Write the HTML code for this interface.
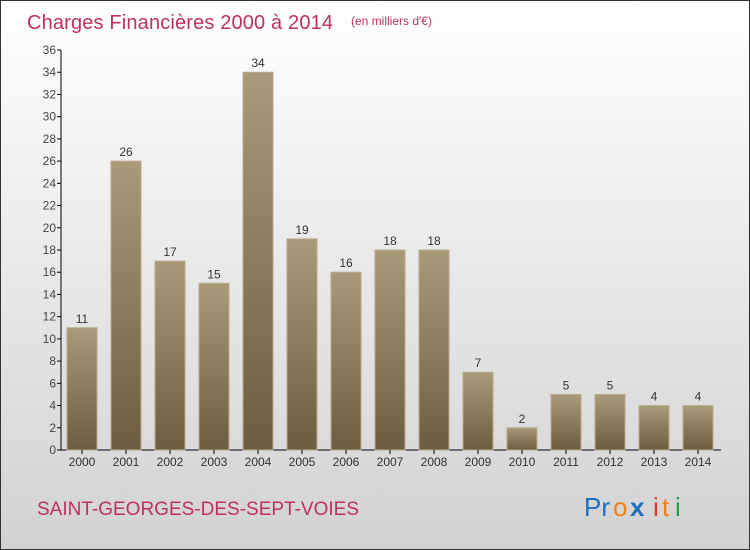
<!DOCTYPE html>
<html><head><meta charset="utf-8"><style>
body{margin:0}
#c{position:relative;width:748px;height:548px;border:1px solid #333;background:linear-gradient(#ffffff,#d2d2d2);overflow:hidden;font-family:"Liberation Sans",sans-serif}
</style></head><body>
<div id="c">
<svg width="748" height="548" id="svg">
<defs><linearGradient id="g" x1="0" y1="0" x2="0" y2="1"><stop offset="0" stop-color="#a99a7a"/><stop offset="1" stop-color="#6c5d40"/></linearGradient></defs>
<text x="26" y="28" font-size="20" fill="#c0305f" textLength="306">Charges Financières 2000 à 2014</text>
<text x="350" y="24" font-size="12" fill="#c0305f">(en milliers d'€)</text>
<text x="36" y="514" font-size="19" fill="#c0305f">SAINT-GEORGES-DES-SEPT-VOIES</text>
<g font-size="26">
<text x="583" y="515" fill="#1a6fc0">Pr</text><text x="612" y="515" fill="#f08010">o</text><text x="629" y="515" fill="#1a6fc0" font-weight="bold">x</text><text x="652" y="515" fill="#e03a20">i</text><text x="661" y="515" fill="#f08010">t</text><text x="674" y="515" fill="#2a9a40">i</text>
</g>
<g id="plot"></g>
</svg></div>
<script>
const years=["2000","2001","2002","2003","2004","2005","2006","2007","2008","2009","2010","2011","2012","2013","2014"];
const values=[11,26,17,15,34,19,16,18,18,7,2,5,5,4,4];
const yTicks=[0,2,4,6,8,10,12,14,16,18,20,22,24,26,28,30,32,34,36];
const NS="http://www.w3.org/2000/svg",p=document.getElementById('plot');
const y=v=>449-v*400/36, x=i=>81+i*44;
function mk(t,a,txt){const e=document.createElementNS(NS,t);for(const k in a)e.setAttribute(k,a[k]);if(txt!=null)e.textContent=txt;p.appendChild(e);return e;}
let e=mk('line',{x1:60,y1:y(0),x2:60,y2:y(36),stroke:'#000'});


e=mk('line',{x1:60,y1:y(0),x2:720,y2:y(0),stroke:'#000'});


yTicks.forEach(v=>{
 mk('line',{x1:56,x2:60,y1:y(v),y2:y(v),stroke:'#000'});
 e=mk('text',{x:55,y:y(v)+4,'font-size':12,'text-anchor':'end',fill:'#444'},v);
 
 
});
values.forEach((v,i)=>{
 e=mk('rect',{x:x(i)-15,y:y(v),width:30,height:y(0)-y(v),fill:'url(#g)',stroke:'#b8aa8c','stroke-width':1});
 
 
 e=mk('text',{x:x(i),y:y(v)-5,'font-size':12,'text-anchor':'middle',fill:'#333'},v);
 
 
 mk('line',{x1:x(i),x2:x(i),y1:y(0),y2:y(0)+4,stroke:'#000'});
 e=mk('text',{x:x(i),y:y(0)+16,'font-size':12,'text-anchor':'middle',fill:'#333'},years[i]);
 
 
});
</script>
</body></html>
